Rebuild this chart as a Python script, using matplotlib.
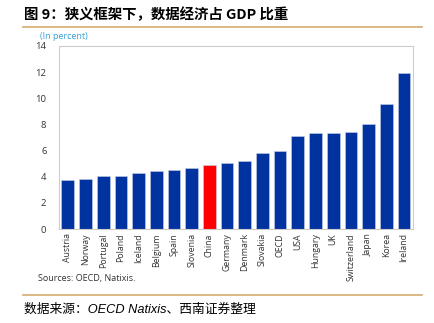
import matplotlib.pyplot as plt
import numpy as np

# Dados
paises = ['Austria', 'Norway', 'Portugal', 'Poland', 'Iceland', 'Belgium', 'Spain',
          'Slovenia', 'China', 'Germany', 'Denmark', 'Slovakia', 'OECD', 'USA',
          'Hungary', 'UK', 'Switzerland', 'Japan', 'Korea', 'Ireland']
valores = [3.75, 3.85, 4.03, 4.08, 4.26, 4.46, 4.51, 4.67, 4.87, 5.07, 5.18,
           5.84, 5.99, 7.09, 7.32, 7.32, 7.42, 8.03, 9.56, 11.91]
destaque = 'China'

plt.rcParams['font.family'] = ['Noto Sans CJK SC', 'DejaVu Sans']

fig = plt.figure(figsize=(4.35, 3.23), dpi=100)
ax = fig.add_axes([0.1356, 0.291, 0.8134, 0.5666])

cores = ['#ff0000' if p == destaque else '#0033a0' for p in paises]
x = np.arange(len(paises))
ax.bar(x, valores, width=0.72, color=cores, edgecolor='#c8d0e8', linewidth=0.4, zorder=2)

ax.set_xlim(-0.5, len(paises) - 0.5)
ax.set_ylim(0, 14)
ax.set_yticks(range(0, 15, 2))
ax.set_xticks(x)
ax.set_xticklabels(paises, rotation=90, fontsize=6.3, color='#333333', family='Open Sans')
ax.tick_params(axis='y', labelsize=6.8, colors='#333333', length=0, pad=9)
ax.tick_params(axis='x', length=0, pad=3)
for l in ax.get_yticklabels():
    l.set_family('Open Sans')
for s in ax.spines.values():
    s.set_color('#cccccc')
    s.set_linewidth(0.8)

# Textos
fig.text(0.055, 0.955, '图 9：狭义框架下，数据经济占 GDP 比重', fontsize=10.4,
         fontweight='bold', va='center', ha='left')
fig.add_artist(plt.Line2D([0.053, 0.97], [0.916, 0.916], color='#d4aa70', linewidth=1.2))
fig.text(0.092, 0.888, '(In percent)', fontsize=6.5, color='#3aa0d8', va='center',
         family='Open Sans')
fig.text(0.087, 0.137, 'Sources: OECD, Natixis.', fontsize=6.5, color='#333333',
         va='center', family='Open Sans')
fig.add_artist(plt.Line2D([0.053, 0.97], [0.087, 0.087], color='#d4aa70', linewidth=1.2))
fig.text(0.055, 0.04, '数据来源：OECD Natixis、西南证券整理', fontsize=9.2, style='italic',
         va='center', ha='left', family=['Liberation Sans', 'Noto Sans CJK SC'])

plt.savefig('out.png', dpi=100)
